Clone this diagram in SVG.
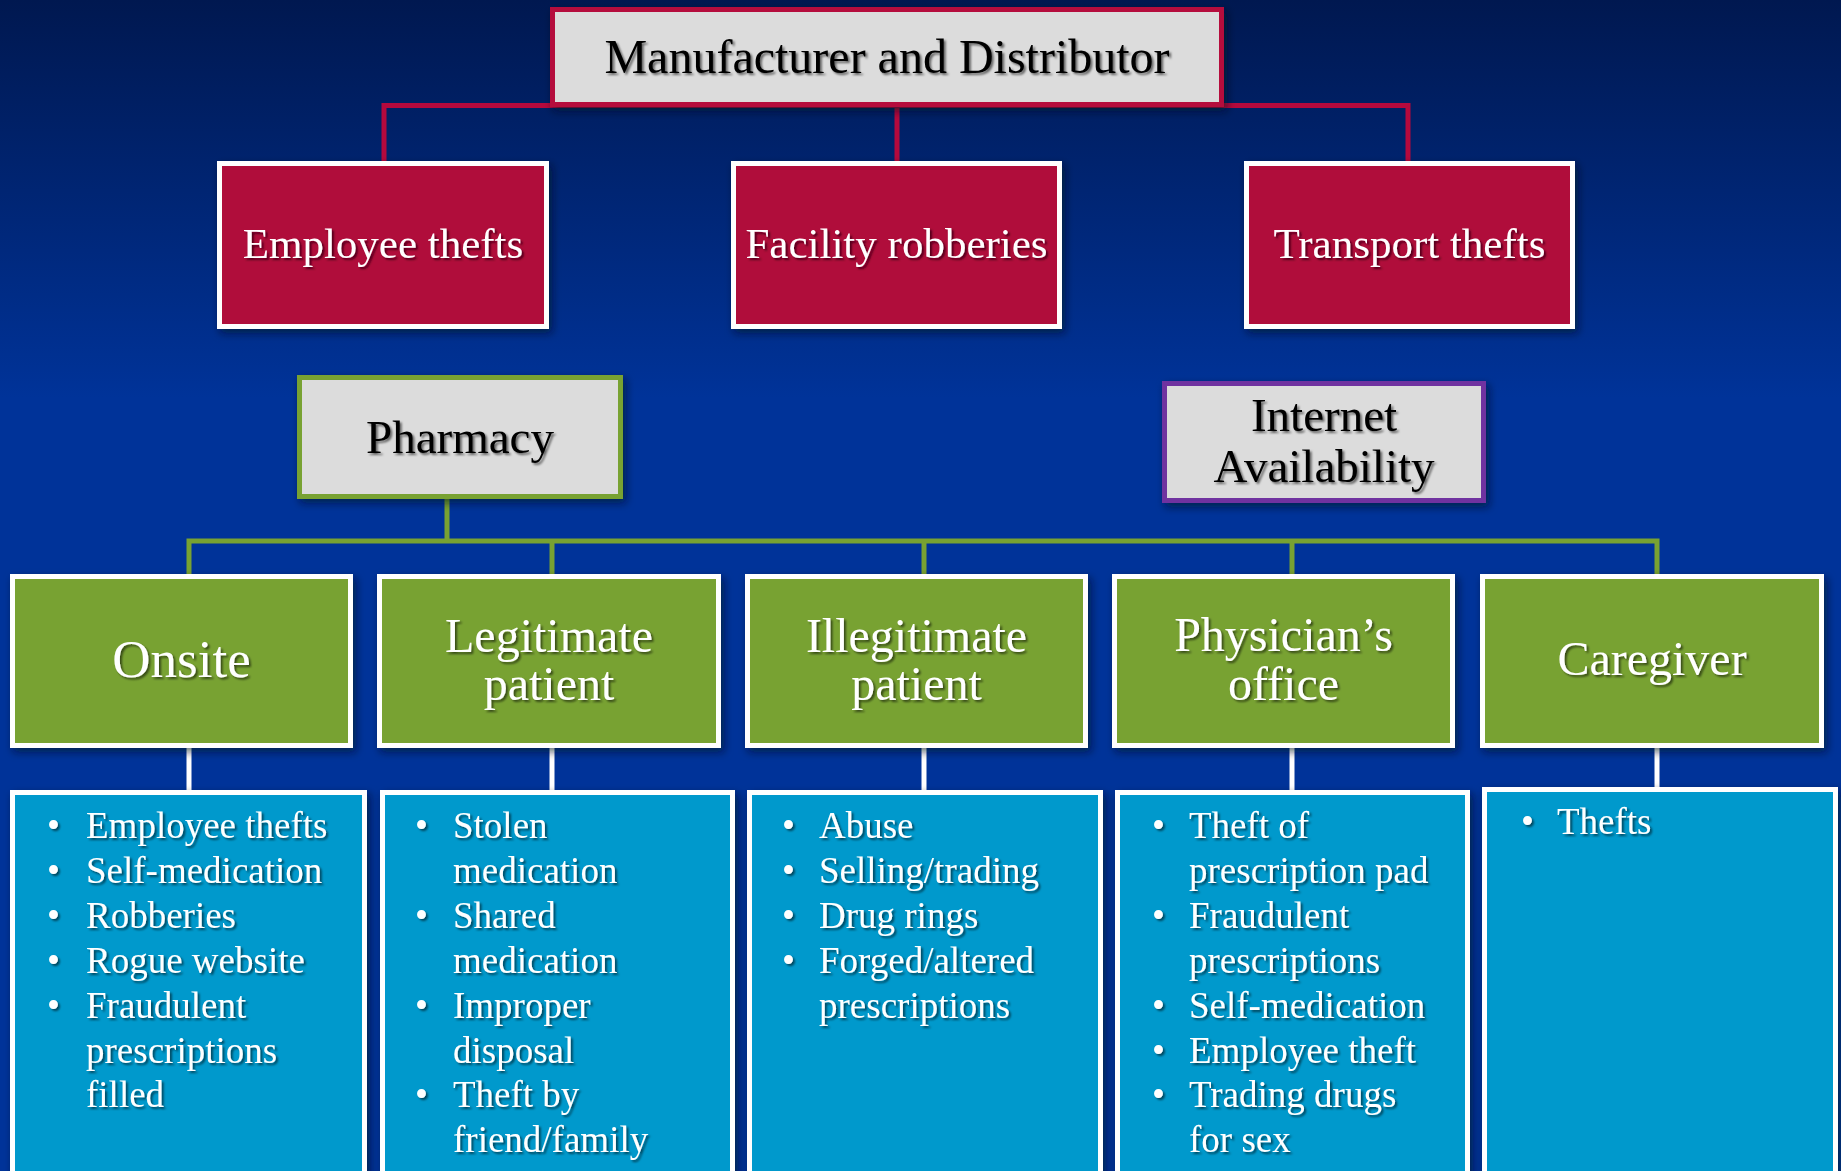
<svg xmlns="http://www.w3.org/2000/svg" width="1841" height="1171" viewBox="0 0 1841 1171">
<defs>
<linearGradient id="bg" x1="0" y1="0" x2="0" y2="1">
<stop offset="0" stop-color="#001850"/>
<stop offset="0.34" stop-color="#003399"/>
<stop offset="1" stop-color="#003399"/>
</linearGradient>
<filter id="bs" x="-10%" y="-10%" width="130%" height="130%">
<feDropShadow dx="3" dy="4" stdDeviation="4" flood-color="#000820" flood-opacity="0.6"/>
</filter>
<filter id="ts" x="-5%" y="-20%" width="115%" height="150%">
<feDropShadow dx="2" dy="2" stdDeviation="1" flood-color="#000000" flood-opacity="0.55"/>
</filter>
<style>
text{font-family:"Liberation Serif","Times New Roman",serif;}
.red{fill:#B0083A;stroke:#FFFFFF;stroke-width:5;}
.grn{fill:#78A232;stroke:#FFFFFF;stroke-width:5;}
.lst{fill:#0099CC;stroke:#FFFFFF;stroke-width:5;}
.gry{fill:#DCDCDC;stroke-width:5;}
.wt{fill:#FFFFFF;text-anchor:middle;}
.bk{fill:#000000;text-anchor:middle;}
.li{fill:#FFFFFF;font-size:37px;}
</style>
</defs>
<rect width="1841" height="1171" fill="url(#bg)"/>

<g id="connectors" fill="none" stroke-width="5">
<path d="M384,163 V105.5 H1408 V163 M897,107 V163" stroke="#B5093D"/>
<path d="M447,499 V541 M189,576 V541 H1657 V576 M552,541 V576 M924,541 V576 M1292,541 V576" stroke="#78A232"/>
<path d="M189,746 V792 M552,746 V792 M924,746 V792 M1292,746 V792 M1657,746 V790" stroke="#FFFFFF"/>
</g>

<g id="manufacturer" filter="url(#bs)">
<rect class="gry" x="552.5" y="9.5" width="669" height="95" stroke="#B5093D"/>
<text class="bk" x="887" y="73" font-size="48" filter="url(#ts)">Manufacturer and Distributor</text>
</g>

<g id="employee-thefts" filter="url(#bs)">
<rect class="red" x="219.5" y="163.5" width="327" height="163"/>
<text class="wt" x="383" y="258" font-size="43" filter="url(#ts)">Employee thefts</text>
</g>
<g id="facility-robberies" filter="url(#bs)">
<rect class="red" x="733.5" y="163.5" width="326" height="163"/>
<text class="wt" x="896.5" y="258" font-size="43" filter="url(#ts)">Facility robberies</text>
</g>
<g id="transport-thefts" filter="url(#bs)">
<rect class="red" x="1246.5" y="163.5" width="326" height="163"/>
<text class="wt" x="1409.5" y="258" font-size="43" filter="url(#ts)">Transport thefts</text>
</g>

<g id="pharmacy" filter="url(#bs)">
<rect class="gry" x="299.5" y="377.5" width="321" height="119" stroke="#78A232"/>
<text class="bk" x="460" y="453" font-size="47" filter="url(#ts)">Pharmacy</text>
</g>
<g id="internet" filter="url(#bs)">
<rect class="gry" x="1164.5" y="383.5" width="319" height="117" stroke="#7030A0"/>
<text class="bk" x="1324" y="431" font-size="47" filter="url(#ts)">Internet</text>
<text class="bk" x="1324" y="482" font-size="47" filter="url(#ts)">Availability</text>
</g>

<g id="onsite" filter="url(#bs)">
<rect class="grn" x="12.5" y="576.5" width="338" height="169"/>
<text class="wt" x="181.5" y="677" font-size="53" filter="url(#ts)">Onsite</text>
</g>
<g id="legitimate" filter="url(#bs)">
<rect class="grn" x="379.5" y="576.5" width="339" height="169"/>
<text class="wt" x="549" y="652" font-size="48" filter="url(#ts)">Legitimate</text>
<text class="wt" x="549" y="700" font-size="48" filter="url(#ts)">patient</text>
</g>
<g id="illegitimate" filter="url(#bs)">
<rect class="grn" x="747.5" y="576.5" width="338" height="169"/>
<text class="wt" x="916.5" y="652" font-size="48" filter="url(#ts)">Illegitimate</text>
<text class="wt" x="916.5" y="700" font-size="48" filter="url(#ts)">patient</text>
</g>
<g id="physician" filter="url(#bs)">
<rect class="grn" x="1114.5" y="576.5" width="338" height="169"/>
<text class="wt" x="1283.5" y="651" font-size="48" filter="url(#ts)">Physician’s</text>
<text class="wt" x="1283.5" y="700" font-size="48" filter="url(#ts)">office</text>
</g>
<g id="caregiver" filter="url(#bs)">
<rect class="grn" x="1482.5" y="576.5" width="339" height="169"/>
<text class="wt" x="1652" y="675" font-size="48" filter="url(#ts)">Caregiver</text>
</g>

<g id="onsite-list" filter="url(#bs)">
<rect class="lst" x="12.5" y="792.5" width="352" height="420"/>
<g filter="url(#ts)">
<text class="li" x="47" y="838">•</text><text class="li" x="86" y="838">Employee thefts</text>
<text class="li" x="47" y="883">•</text><text class="li" x="86" y="883">Self-medication</text>
<text class="li" x="47" y="928">•</text><text class="li" x="86" y="928">Robberies</text>
<text class="li" x="47" y="973">•</text><text class="li" x="86" y="973">Rogue website</text>
<text class="li" x="47" y="1018">•</text><text class="li" x="86" y="1018">Fraudulent</text>
<text class="li" x="86" y="1063">prescriptions</text>
<text class="li" x="86" y="1107">filled</text>
</g>
</g>
<g id="legitimate-list" filter="url(#bs)">
<rect class="lst" x="382.5" y="792.5" width="350" height="420"/>
<g filter="url(#ts)">
<text class="li" x="415" y="838">•</text><text class="li" x="453" y="838">Stolen</text>
<text class="li" x="453" y="883">medication</text>
<text class="li" x="415" y="928">•</text><text class="li" x="453" y="928">Shared</text>
<text class="li" x="453" y="973">medication</text>
<text class="li" x="415" y="1018">•</text><text class="li" x="453" y="1018">Improper</text>
<text class="li" x="453" y="1063">disposal</text>
<text class="li" x="415" y="1107">•</text><text class="li" x="453" y="1107">Theft by</text>
<text class="li" x="453" y="1152">friend/family</text>
</g>
</g>
<g id="illegitimate-list" filter="url(#bs)">
<rect class="lst" x="749.5" y="792.5" width="351" height="420"/>
<g filter="url(#ts)">
<text class="li" x="782" y="838">•</text><text class="li" x="819" y="838">Abuse</text>
<text class="li" x="782" y="883">•</text><text class="li" x="819" y="883">Selling/trading</text>
<text class="li" x="782" y="928">•</text><text class="li" x="819" y="928">Drug rings</text>
<text class="li" x="782" y="973">•</text><text class="li" x="819" y="973">Forged/altered</text>
<text class="li" x="819" y="1018">prescriptions</text>
</g>
</g>
<g id="physician-list" filter="url(#bs)">
<rect class="lst" x="1117.5" y="792.5" width="350" height="420"/>
<g filter="url(#ts)">
<text class="li" x="1152" y="838">•</text><text class="li" x="1189" y="838">Theft of</text>
<text class="li" x="1189" y="883">prescription pad</text>
<text class="li" x="1152" y="928">•</text><text class="li" x="1189" y="928">Fraudulent</text>
<text class="li" x="1189" y="973">prescriptions</text>
<text class="li" x="1152" y="1018">•</text><text class="li" x="1189" y="1018">Self-medication</text>
<text class="li" x="1152" y="1063">•</text><text class="li" x="1189" y="1063">Employee theft</text>
<text class="li" x="1152" y="1107">•</text><text class="li" x="1189" y="1107">Trading drugs</text>
<text class="li" x="1189" y="1152">for sex</text>
</g>
</g>
<g id="caregiver-list" filter="url(#bs)">
<rect class="lst" x="1484.5" y="789.5" width="351" height="420"/>
<g filter="url(#ts)">
<text class="li" x="1521" y="834">•</text><text class="li" x="1557" y="834">Thefts</text>
</g>
</g>
</svg>
